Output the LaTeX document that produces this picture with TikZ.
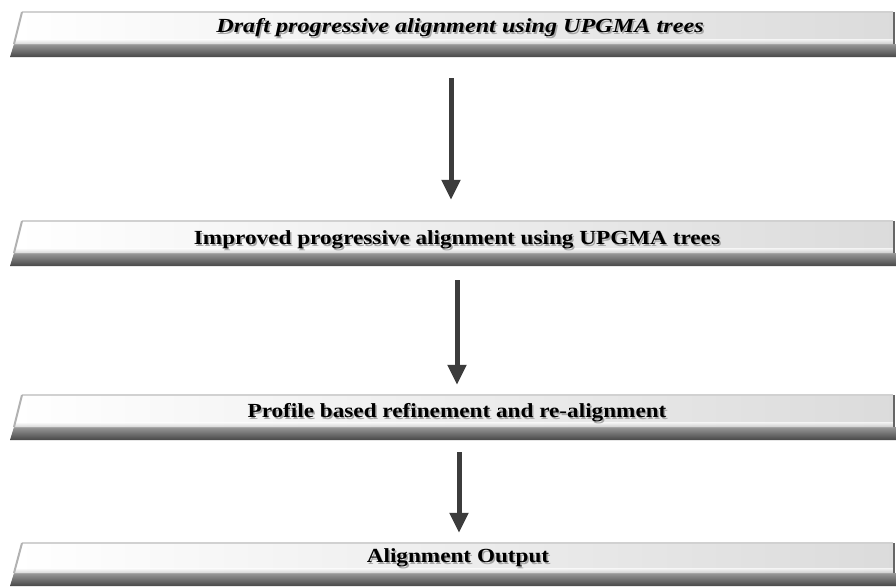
\documentclass[tikz,border=0pt]{standalone}
\usepackage{fontspec}
\setmainfont{Liberation Serif}
\usetikzlibrary{arrows.meta,calc}
\definecolor{arrowgray}{HTML}{3C3C3C}
\tikzset{
  stagearrow/.style={draw=arrowgray, line width=5pt, -{Triangle[width=18pt,length=20pt]}},
  barframe/.style={draw=none, minimum width=886pt, inner sep=0pt},
  label/.style={font=\fontsize{20}{22}\selectfont\bfseries, inner sep=0pt},
  labelshadow/.style={label, text=black!35}
}
% #1 top of the face, #2 bottom of the face, #3 bottom of the dark band
\newcommand\stagebar[3]{%
  \shade[top color=black!40, bottom color=black!72]
    (14,#2) -- (896,#2) -- (896,#3) -- (10,#3) -- cycle;
  \shade[left color=white, right color=black!14]
    (22,#1) -- (893,#1) -- (893,#2) -- (14,#2) -- cycle;
  \shade[top color=white, bottom color=black!22, opacity=0.7]
    (15,#2-5) -- (893,#2-5) -- (893,#2) -- (14,#2) -- cycle;
  \draw[black!18, line width=1.5pt] (22,#1) -- (893,#1);
  \draw[black!30, line width=2pt] (22,#1) -- (14,#2);
  \draw[black!60, line width=1.5pt] (894,#1) -- (894,#2);
}
\begin{document}
\begin{tikzpicture}[x=1pt,y=-1pt]
  \useasboundingbox (0,0) rectangle (896,587);
  \fill[white] (0,0) rectangle (896,587);

  \stagebar{12}{44}{57}
  \stagebar{221}{253}{266}
  \stagebar{395}{427}{440}
  \stagebar{543}{573}{586}

  \node[barframe, minimum height=45pt] (b1) at (453,34.5) {};
  \node[barframe, minimum height=45pt] (b2) at (453,243.5) {};
  \node[barframe, minimum height=45pt] (b3) at (453,417.5) {};
  \node[barframe, minimum height=43pt] (b4) at (453,564.5) {};

  \node[labelshadow] (t1s) at (461.5,29.5) {\scalebox{1.21}[1]{\itshape Draft progressive alignment using UPGMA trees}};
  \node[label] (t1) at (460,28) {\scalebox{1.21}[1]{\itshape Draft progressive alignment using UPGMA trees}};
  \node[labelshadow] (t2s) at (458.5,241.5) {\scalebox{1.16}[1]{Improved progressive alignment using UPGMA trees}};
  \node[label] (t2) at (457,240) {\scalebox{1.16}[1]{Improved progressive alignment using UPGMA trees}};
  \node[labelshadow] (t3s) at (458.5,414.5) {\scalebox{1.16}[1]{Profile based refinement and re-alignment}};
  \node[label] (t3) at (457,413) {\scalebox{1.16}[1]{Profile based refinement and re-alignment}};
  \node[labelshadow] (t4s) at (459.5,559.5) {\scalebox{1.16}[1]{Alignment Output}};
  \node[label] (t4) at (458,558) {\scalebox{1.16}[1]{Alignment Output}};

  \draw[stagearrow] ($(b1.south)+(-2,21)$) -- ($(b2.north)+(-2,-21)$);
  \draw[stagearrow] ($(b2.south)+(4,14)$) -- ($(b3.north)+(4,-10)$);
  \draw[stagearrow] ($(b3.south)+(6,12)$) -- ($(b4.north)+(6,-10)$);
\end{tikzpicture}
\end{document}
